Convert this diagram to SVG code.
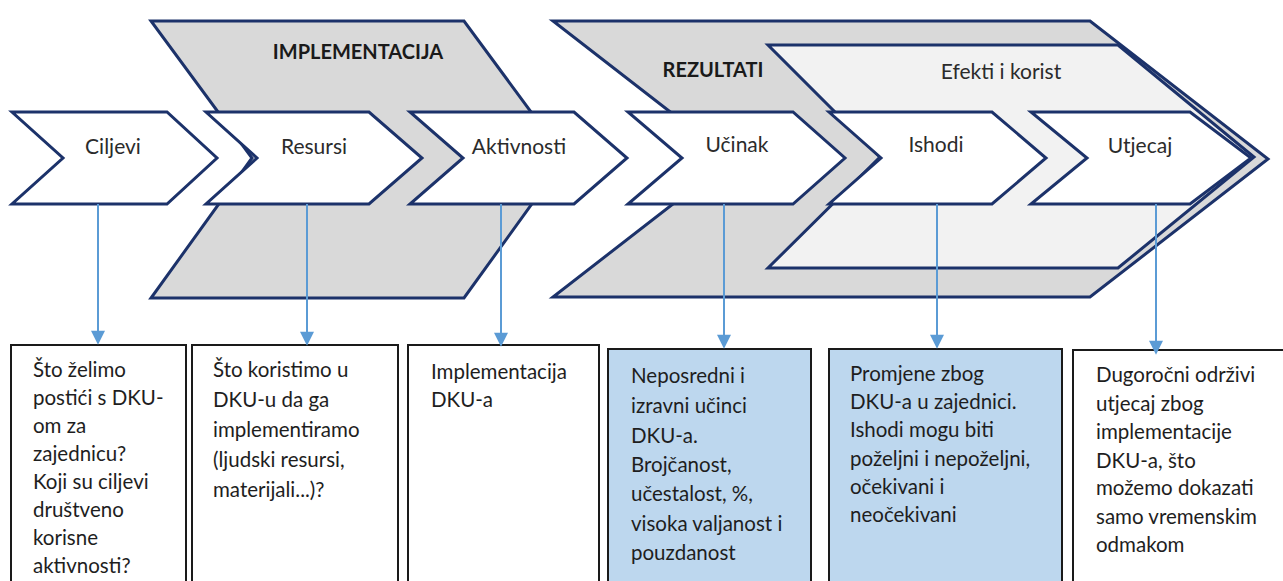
<svg xmlns="http://www.w3.org/2000/svg" width="1283" height="581" viewBox="0 0 1283 581">
<defs>
<marker id="ah" markerWidth="16" markerHeight="14" refX="14" refY="8" orient="auto" markerUnits="userSpaceOnUse" viewBox="0 0 16 16">
<path d="M0,0 L16,8 L0,16 Z" fill="#5B9BD5"/>
</marker>
<style>
.big{fill:#D9D9D9;stroke:#1C326A;stroke-width:3;stroke-linejoin:miter}
.eff{fill:#F2F2F2;stroke:#1C326A;stroke-width:3}
.chev{fill:#FFFFFF;stroke:#1C326A;stroke-width:3}
.lbl{font-family:Lato,"Liberation Sans",sans-serif;font-size:21px;fill:#2b2b2b;text-anchor:middle}
.head{font-family:Lato,"Liberation Sans",sans-serif;font-size:20px;font-weight:bold;fill:#1a1a1a;text-anchor:middle}
.box{fill:#FFFFFF;stroke:#1a1a1a;stroke-width:2}
.boxb{fill:#BDD7EE;stroke:#1a1a1a;stroke-width:2}
.txt{font-family:Lato,"Liberation Sans",sans-serif;font-size:20.5px;fill:#1e1e1e}
.conn{stroke:#5B9BD5;stroke-width:2;fill:none}
</style>
</defs>
<rect width="1283" height="581" fill="#FFFFFF"/>

<g id="implementacija">
<polygon class="big" points="151,21 464,21 565,158 464,298 151,298 252,158"/>
<text class="head" x="358" y="59">IMPLEMENTACIJA</text>
</g>
<g id="rezultati">
<polygon class="big" points="553,21 1090,21 1268,159 1090,297 553,297 731,159"/>
<text class="head" x="713" y="77">REZULTATI</text>
</g>
<g id="efekti">
<polygon class="eff" points="768,45 1118,45 1254,157 1118,268 768,268 880,157"/>
<text class="lbl" x="1001" y="79">Efekti i korist</text>
</g>

<g id="ciljevi">
<polygon class="chev" points="12,112 167,112 217,158 167,204 12,204 63,158"/>
<text class="lbl" x="113" y="154">Ciljevi</text>
</g>
<g id="resursi">
<polygon class="chev" points="206,112 369,112 422,158 369,204 206,204 257,158"/>
<text class="lbl" x="314" y="154">Resursi</text>
</g>
<g id="aktivnosti">
<polygon class="chev" points="410,112 574,112 627,158 574,204 410,204 463,158"/>
<text class="lbl" x="519" y="154">Aktivnosti</text>
</g>
<g id="ucinak">
<polygon class="chev" points="628,112 793,112 845,158 793,204 628,204 682,158"/>
<text class="lbl" x="737" y="152">Učinak</text>
</g>
<g id="ishodi">
<polygon class="chev" points="829,112 992,112 1046,158 992,204 829,204 881,158"/>
<text class="lbl" x="936" y="152">Ishodi</text>
</g>
<g id="utjecaj">
<polygon class="chev" points="1031,112 1190,112 1251,158 1190,204 1031,204 1087,158"/>
<text class="lbl" x="1140" y="153">Utjecaj</text>
</g>

<g id="box-ciljevi">
<rect class="box" x="11" y="345" width="175" height="250"/>
<text class="txt"><tspan x="33" y="377">Što želimo</tspan><tspan x="33" y="405">postići s DKU-</tspan><tspan x="33" y="433">om za</tspan><tspan x="33" y="461">zajednicu?</tspan><tspan x="33" y="489">Koji su ciljevi</tspan><tspan x="33" y="517">društveno</tspan><tspan x="33" y="545">korisne</tspan><tspan x="33" y="573">aktivnosti?</tspan></text>
</g>
<g id="box-resursi">
<rect class="box" x="192" y="345" width="206" height="250"/>
<text class="txt"><tspan x="213" y="377">Što koristimo u</tspan><tspan x="213" y="407">DKU-u da ga</tspan><tspan x="213" y="437">implementiramo</tspan><tspan x="213" y="467">(ljudski resursi,</tspan><tspan x="213" y="497">materijali...)?</tspan></text>
</g>
<g id="box-aktivnosti">
<rect class="box" x="408" y="345" width="191" height="250"/>
<text class="txt"><tspan x="431" y="379">Implementacija</tspan><tspan x="431" y="407">DKU-a</tspan></text>
</g>
<g id="box-ucinak">
<rect class="boxb" x="608" y="349" width="203" height="250"/>
<text class="txt"><tspan x="631" y="383">Neposredni i</tspan><tspan x="631" y="413">izravni učinci</tspan><tspan x="631" y="443">DKU-a.</tspan><tspan x="631" y="472">Brojčanost,</tspan><tspan x="631" y="501">učestalost, %,</tspan><tspan x="631" y="531">visoka valjanost i</tspan><tspan x="631" y="560">pouzdanost</tspan></text>
</g>
<g id="box-ishodi">
<rect class="boxb" x="829" y="349" width="233" height="250"/>
<text class="txt"><tspan x="850" y="381">Promjene zbog</tspan><tspan x="850" y="409">DKU-a u zajednici.</tspan><tspan x="850" y="437">Ishodi mogu biti</tspan><tspan x="850" y="466">poželjni i nepoželjni,</tspan><tspan x="850" y="494">očekivani i</tspan><tspan x="850" y="522">neočekivani</tspan></text>
</g>
<g id="box-utjecaj">
<rect class="box" x="1073" y="350" width="220" height="250"/>
<text class="txt"><tspan x="1096" y="382">Dugoročni održivi</tspan><tspan x="1096" y="411">utjecaj zbog</tspan><tspan x="1096" y="439">implementacije</tspan><tspan x="1096" y="468">DKU-a, što</tspan><tspan x="1096" y="495">možemo dokazati</tspan><tspan x="1096" y="524">samo vremenskim</tspan><tspan x="1096" y="552">odmakom</tspan></text>
</g>

<g id="connectors">
<line class="conn" x1="98" y1="204" x2="98" y2="343" marker-end="url(#ah)"/>
<line class="conn" x1="307" y1="204" x2="307" y2="344" marker-end="url(#ah)"/>
<line class="conn" x1="501" y1="204" x2="501" y2="345" marker-end="url(#ah)"/>
<line class="conn" x1="724" y1="204" x2="724" y2="347" marker-end="url(#ah)"/>
<line class="conn" x1="937" y1="204" x2="937" y2="347" marker-end="url(#ah)"/>
<line class="conn" x1="1156" y1="204" x2="1156" y2="353" marker-end="url(#ah)"/>
</g>
</svg>
